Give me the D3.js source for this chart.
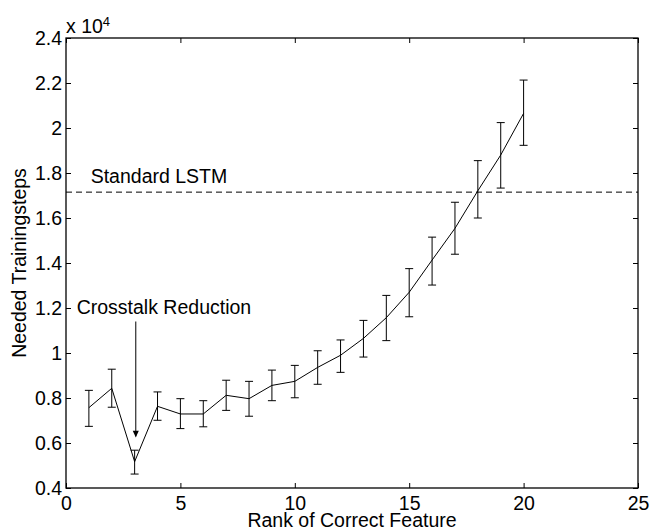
<!DOCTYPE html>
<html>
<head>
<meta charset="UTF-8">
<script src="https://cdn.jsdelivr.net/npm/d3@7"></script>
<style>
  body { margin: 0; background: #fff; }
  text { font-family: "Liberation Sans", Arial, sans-serif; fill: #000; }
</style>
</head>
<body>
<script>
// rank of correct feature
var ranks = [1, 2, 3, 4, 5, 6, 7, 8, 9, 10, 11, 12, 13, 14, 15, 16, 17, 18, 19, 20];
// mean trainingsteps (x 10^4)
var means = [0.757, 0.843, 0.517, 0.763, 0.729, 0.729, 0.812, 0.797, 0.856, 0.874,
             0.936, 0.99, 1.065, 1.157, 1.27, 1.413, 1.554, 1.721, 1.88, 2.065];
var upper = [0.834, 0.928, 0.568, 0.827, 0.797, 0.788, 0.879, 0.874, 0.924, 0.945,
             1.01, 1.058, 1.145, 1.256, 1.375, 1.515, 1.67, 1.855, 2.024, 2.213];
var lower = [0.674, 0.759, 0.462, 0.701, 0.664, 0.672, 0.745, 0.719, 0.788, 0.801,
             0.861, 0.914, 0.982, 1.055, 1.161, 1.302, 1.439, 1.6, 1.733, 1.923];
var standardLSTM = 1.715;
var xTicks = [0, 5, 10, 15, 20, 25];
var yTicks = [0.4, 0.6, 0.8, 1, 1.2, 1.4, 1.6, 1.8, 2, 2.2, 2.4];

var W = 650, H = 529;
var L = 66, R = 638, T = 38, B = 488;
var fs = "19.5px";

var svg = d3.select("body").append("svg")
  .attr("width", W).attr("height", H);

var x = d3.scaleLinear().domain([0, 25]).range([L, R]);
var y = d3.scaleLinear().domain([0.4, 2.4]).range([B, T]);

// frame
svg.append("rect")
  .attr("x", L).attr("y", T)
  .attr("width", R - L).attr("height", B - T)
  .attr("fill", "none").attr("stroke", "#000").attr("stroke-width", 1.3);

// axes with inward ticks, on all four sides
var fmt = function (d) { return d3.format("")(+d.toFixed(1)); };
svg.append("g").attr("transform", "translate(0," + B + ")")
  .call(d3.axisBottom(x).tickValues(xTicks).tickSize(-5).tickPadding(8).tickFormat(d3.format("d")))
  .call(function (g) { g.select(".domain").remove(); });
svg.append("g").attr("transform", "translate(0," + T + ")")
  .call(d3.axisTop(x).tickValues(xTicks).tickSize(-5).tickFormat(""))
  .call(function (g) { g.select(".domain").remove(); });
svg.append("g").attr("transform", "translate(" + L + ",0)")
  .call(d3.axisLeft(y).tickValues(yTicks).tickSize(-5).tickPadding(4).tickFormat(fmt))
  .call(function (g) { g.select(".domain").remove(); });
svg.append("g").attr("transform", "translate(" + R + ",0)")
  .call(d3.axisRight(y).tickValues(yTicks).tickSize(-5).tickFormat(""))
  .call(function (g) { g.select(".domain").remove(); });

svg.selectAll(".tick line").attr("stroke", "#000").attr("stroke-width", 1);
svg.selectAll(".tick text")
  .style("font-size", fs)
  .style("font-family", "'Liberation Sans', Arial, sans-serif")
  .attr("fill", "#000");

// exponent label
var ex = svg.append("text").attr("x", L).attr("y", 33).style("font-size", fs);
ex.append("tspan").text("x 10");
ex.append("tspan").attr("dy", -7).style("font-size", "13px").text("4");

// standard LSTM dashed line
svg.append("line")
  .attr("x1", L).attr("x2", R)
  .attr("y1", y(standardLSTM)).attr("y2", y(standardLSTM))
  .attr("stroke", "#000").attr("stroke-width", 1)
  .attr("stroke-dasharray", "6,4");
svg.append("text")
  .attr("x", 90.7).attr("y", 182.5)
  .style("font-size", fs)
  .text("Standard LSTM");

// error bars
var data = ranks.map(function (r, i) {
  return { r: r, m: means[i], hi: upper[i], lo: lower[i] };
});
var eb = svg.append("g").attr("stroke", "#000").attr("stroke-width", 1);
eb.selectAll(".v").data(data).enter().append("line")
  .attr("x1", d => x(d.r)).attr("x2", d => x(d.r))
  .attr("y1", d => y(d.hi)).attr("y2", d => y(d.lo));
eb.selectAll(".t").data(data).enter().append("line")
  .attr("x1", d => x(d.r) - 4).attr("x2", d => x(d.r) + 4)
  .attr("y1", d => y(d.hi)).attr("y2", d => y(d.hi));
eb.selectAll(".b").data(data).enter().append("line")
  .attr("x1", d => x(d.r) - 4).attr("x2", d => x(d.r) + 4)
  .attr("y1", d => y(d.lo)).attr("y2", d => y(d.lo));

// mean line
svg.append("path")
  .datum(data)
  .attr("fill", "none").attr("stroke", "#000").attr("stroke-width", 1)
  .attr("d", d3.line().x(d => x(d.r)).y(d => y(d.m)));

// crosstalk annotation
var ax = x(3.05);
svg.append("line")
  .attr("x1", ax).attr("x2", ax)
  .attr("y1", y(1.14)).attr("y2", y(0.63))
  .attr("stroke", "#000").attr("stroke-width", 1);
svg.append("path")
  .attr("d", "M" + (ax - 3) + "," + (y(0.655)) + "L" + (ax + 3) + "," + y(0.655) + "L" + ax + "," + y(0.625) + "Z")
  .attr("fill", "#000");
svg.append("text")
  .attr("x", 76.7).attr("y", 313.5)
  .style("font-size", fs)
  .text("Crosstalk Reduction");

// axis titles
svg.append("text")
  .attr("x", (L + R) / 2).attr("y", 527)
  .attr("text-anchor", "middle")
  .style("font-size", fs)
  .text("Rank of Correct Feature");
svg.append("text")
  .attr("transform", "translate(26," + (T + B) / 2 + ") rotate(-90)")
  .attr("text-anchor", "middle")
  .style("font-size", fs)
  .text("Needed Trainingsteps");
</script>
</body>
</html>
